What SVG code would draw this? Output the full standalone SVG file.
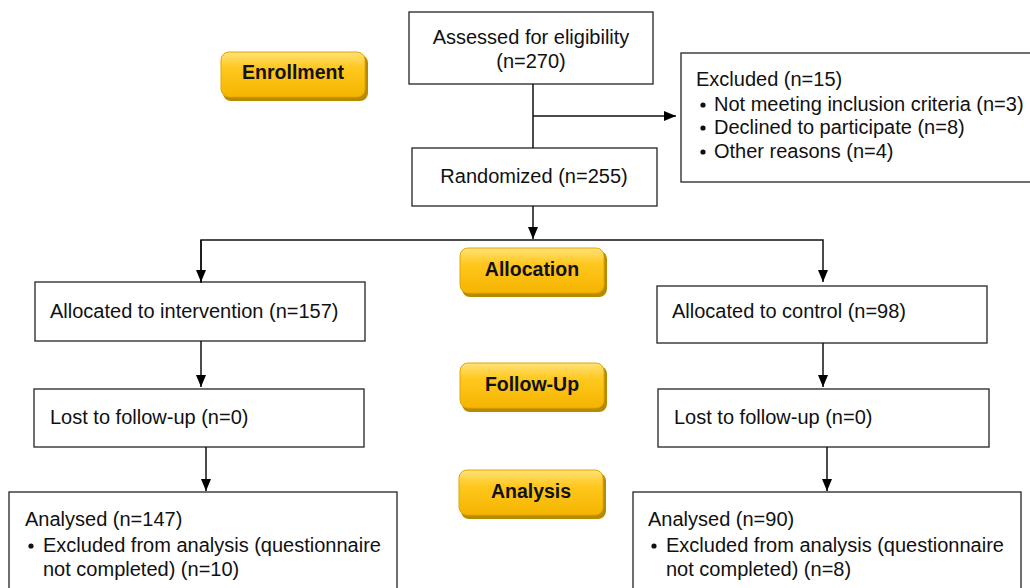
<svg xmlns="http://www.w3.org/2000/svg" width="1030" height="588" viewBox="0 0 1030 588">
<defs>
<linearGradient id="gold" x1="0" y1="0" x2="0" y2="1">
<stop offset="0" stop-color="#FFE27A"/>
<stop offset="0.35" stop-color="#FFC81E"/>
<stop offset="1" stop-color="#F5B400"/>
</linearGradient>
<marker id="arr" markerWidth="12" markerHeight="12" viewBox="0 0 12 12" refX="12" refY="6" orient="auto" markerUnits="userSpaceOnUse">
<path d="M0,1 L12,6 L0,11 Z" fill="#000"/>
</marker>
</defs>
<style>
.box{fill:#fff;stroke:#333;stroke-width:1.4}
.t{font-family:"Liberation Sans",Arial,sans-serif;font-size:20px;fill:#111}
.b{font-family:"Liberation Sans",Arial,sans-serif;font-size:19.5px;font-weight:bold;fill:#111;text-anchor:middle}
.badge{fill:url(#gold);stroke:#E0A800;stroke-width:1}
.shadow{fill:#B88A00}
.c{fill:none;stroke:#111;stroke-width:1.5}
</style>
<rect width="1030" height="588" fill="#fff"/>
<g id="enrollment">
<rect class="shadow" x="223" y="55" width="145" height="46" rx="8"/>
<rect class="badge" x="221" y="52" width="144" height="45" rx="8"/>
<text class="b" x="293" y="79">Enrollment</text>
</g>
<g id="allocation">
<rect class="shadow" x="462" y="251" width="145" height="46" rx="8"/>
<rect class="badge" x="460" y="248" width="144" height="45" rx="8"/>
<text class="b" x="532" y="276">Allocation</text>
</g>
<g id="followup">
<rect class="shadow" x="462" y="366" width="145" height="46" rx="8"/>
<rect class="badge" x="460" y="363" width="144" height="45" rx="8"/>
<text class="b" x="532" y="391">Follow-Up</text>
</g>
<g id="analysis">
<rect class="shadow" x="461" y="473" width="145" height="46" rx="8"/>
<rect class="badge" x="459" y="470" width="144" height="45" rx="8"/>
<text class="b" x="531" y="498">Analysis</text>
</g>
<g id="assessed">
<rect class="box" x="409" y="12" width="244" height="72"/>
<text class="t" x="531" y="44" text-anchor="middle">Assessed for eligibility</text>
<text class="t" x="531" y="68" text-anchor="middle">(n=270)</text>
</g>
<g id="excluded">
<rect class="box" x="681" y="53" width="360" height="129"/>
<text class="t" x="696" y="86">Excluded (n=15)</text>
<circle cx="703" cy="105" r="2.6" fill="#111"/>
<text class="t" x="714" y="111">Not meeting inclusion criteria (n=3)</text>
<circle cx="703" cy="128" r="2.6" fill="#111"/>
<text class="t" x="714" y="134">Declined to participate (n=8)</text>
<circle cx="703" cy="152" r="2.6" fill="#111"/>
<text class="t" x="714" y="158">Other reasons (n=4)</text>
</g>
<g id="randomized">
<rect class="box" x="412" y="148" width="245" height="58"/>
<text class="t" x="534" y="183" text-anchor="middle">Randomized (n=255)</text>
</g>
<g id="alloc-int">
<rect class="box" x="35" y="282" width="330" height="59"/>
<text class="t" x="50" y="318">Allocated to intervention (n=157)</text>
</g>
<g id="alloc-ctrl">
<rect class="box" x="657" y="286" width="330" height="57"/>
<text class="t" x="672" y="318">Allocated to control (n=98)</text>
</g>
<g id="lost-int">
<rect class="box" x="34" y="389" width="330" height="58"/>
<text class="t" x="50" y="424">Lost to follow-up (n=0)</text>
</g>
<g id="lost-ctrl">
<rect class="box" x="658" y="389" width="331" height="58"/>
<text class="t" x="674" y="424">Lost to follow-up (n=0)</text>
</g>
<g id="analysed-int">
<rect class="box" x="9" y="492" width="388" height="110"/>
<text class="t" x="25" y="526">Analysed (n=147)</text>
<circle cx="31" cy="546" r="2.6" fill="#111"/>
<text class="t" x="43" y="552">Excluded from analysis (questionnaire</text>
<text class="t" x="43" y="576">not completed) (n=10)</text>
</g>
<g id="analysed-ctrl">
<rect class="box" x="633" y="492" width="388" height="110"/>
<text class="t" x="648" y="526">Analysed (n=90)</text>
<circle cx="654" cy="546" r="2.6" fill="#111"/>
<text class="t" x="666" y="552">Excluded from analysis (questionnaire</text>
<text class="t" x="666" y="576">not completed) (n=8)</text>
</g>
<g id="connectors">
<line class="c" x1="533" y1="84" x2="533" y2="148"/>
<line class="c" x1="533" y1="116" x2="676" y2="116" marker-end="url(#arr)"/>
<line class="c" x1="533" y1="206" x2="533" y2="239" marker-end="url(#arr)"/>
<polyline class="c" points="201,283 201,240 823,240 823,282" marker-end="url(#arr)"/>
<line class="c" x1="201" y1="240" x2="201" y2="282" marker-end="url(#arr)"/>
<line class="c" x1="201" y1="341" x2="201" y2="387" marker-end="url(#arr)"/>
<line class="c" x1="823" y1="343" x2="823" y2="387" marker-end="url(#arr)"/>
<line class="c" x1="206" y1="447" x2="206" y2="491" marker-end="url(#arr)"/>
<line class="c" x1="827" y1="447" x2="827" y2="491" marker-end="url(#arr)"/>
</g>
</svg>
